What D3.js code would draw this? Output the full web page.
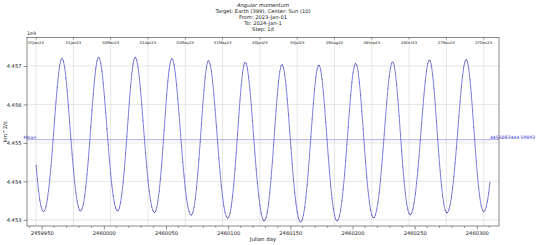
<!DOCTYPE html>
<html>
<head>
<meta charset="utf-8">
<script src="https://cdn.jsdelivr.net/npm/d3@7/dist/d3.min.js"></script>
<style>
    body { margin: 0; background: #fff; }
    svg text { font-family: "DejaVu Sans", sans-serif; fill: #222; }
</style>
</head>
<body>
<svg id="chart" width="540" height="245"></svg>
<script>
(function (d3) {
    "use strict";

    /***** Données *****/

    // Premier jour julien de la série (2023-Jan-01 00:00), pas de 1 jour
    const startJD = 2459945.5;

    // Moment cinétique (unités de 1e9 km^2/s), un point par jour
    const momentum = [
        4.454421, 4.454061, 4.453757, 4.453517, 4.453345, 4.453243, 4.453210, 4.453246, 4.453350, 4.453520,
        4.453755, 4.454050, 4.454400, 4.454793, 4.455214, 4.455645, 4.456063, 4.456445, 4.456768, 4.457012,
        4.457158, 4.457199, 4.457131, 4.456958, 4.456693, 4.456354, 4.455961, 4.455538, 4.455110, 4.454697,
        4.454315, 4.453981, 4.453702, 4.453486, 4.453335, 4.453250, 4.453232, 4.453284, 4.453406, 4.453599,
        4.453859, 4.454182, 4.454558, 4.454975, 4.455414, 4.455855, 4.456272, 4.456639, 4.456933, 4.457133,
        4.457225, 4.457204, 4.457080, 4.456861, 4.456561, 4.456198, 4.455795, 4.455374, 4.454955, 4.454558,
        4.454198, 4.453887, 4.453632, 4.453436, 4.453306, 4.453239, 4.453238, 4.453311, 4.453457, 4.453676,
        4.453964, 4.454316, 4.454719, 4.455158, 4.455612, 4.456055, 4.456460, 4.456801, 4.457054, 4.457199,
        4.457226, 4.457146, 4.456969, 4.456706, 4.456374, 4.455991, 4.455578, 4.455159, 4.454750, 4.454370,
        4.454031, 4.453742, 4.453512, 4.453342, 4.453235, 4.453191, 4.453215, 4.453316, 4.453493, 4.453743,
        4.454063, 4.454445, 4.454872, 4.455328, 4.455788, 4.456224, 4.456607, 4.456912, 4.457113, 4.457198,
        4.457166, 4.457033, 4.456808, 4.456505, 4.456143, 4.455741, 4.455320, 4.454902, 4.454503, 4.454140,
        4.453823, 4.453560, 4.453357, 4.453215, 4.453137, 4.453123, 4.453183, 4.453320, 4.453534, 4.453820,
        4.454173, 4.454582, 4.455029, 4.455493, 4.455948, 4.456363, 4.456713, 4.456969, 4.457113, 4.457134,
        4.457048, 4.456863, 4.456593, 4.456253, 4.455864, 4.455445, 4.455020, 4.454608, 4.454222, 4.453881,
        4.453591, 4.453360, 4.453189, 4.453083, 4.453041, 4.453068, 4.453173, 4.453354, 4.453610, 4.453935,
        4.454321, 4.454753, 4.455213, 4.455676, 4.456115, 4.456502, 4.456808, 4.457012, 4.457098, 4.457065,
        4.456927, 4.456695, 4.456381, 4.456005, 4.455590, 4.455156, 4.454727, 4.454321, 4.453953, 4.453636,
        4.453374, 4.453177, 4.453044, 4.452978, 4.452980, 4.453056, 4.453206, 4.453430, 4.453724, 4.454081,
        4.454489, 4.454932, 4.455390, 4.455839, 4.456248, 4.456595, 4.456853, 4.457004, 4.457037, 4.456956,
        4.456771, 4.456495, 4.456143, 4.455738, 4.455306, 4.454867, 4.454444, 4.454054, 4.453711, 4.453425,
        4.453204, 4.453048, 4.452960, 4.452942, 4.452995, 4.453119, 4.453315, 4.453578, 4.453905, 4.454286,
        4.454708, 4.455153, 4.455601, 4.456025, 4.456402, 4.456706, 4.456917, 4.457020, 4.457009, 4.456885,
        4.456656, 4.456340, 4.455955, 4.455529, 4.455084, 4.454646, 4.454234, 4.453866, 4.453553, 4.453303,
        4.453122, 4.453011, 4.452970, 4.453000, 4.453098, 4.453264, 4.453497, 4.453792, 4.454143, 4.454539,
        4.454967, 4.455406, 4.455836, 4.456234, 4.456575, 4.456838, 4.457007, 4.457070, 4.457019, 4.456854,
        4.456585, 4.456233, 4.455821, 4.455379, 4.454929, 4.454497, 4.454101, 4.453757, 4.453476, 4.453264,
        4.453124, 4.453056, 4.453061, 4.453131, 4.453266, 4.453465, 4.453725, 4.454040, 4.454404, 4.454805,
        4.455227, 4.455651, 4.456058, 4.456424, 4.456728, 4.456952, 4.457080, 4.457106, 4.457015, 4.456810,
        4.456506, 4.456125, 4.455694, 4.455241, 4.454792, 4.454371, 4.453997, 4.453681, 4.453434, 4.453259,
        4.453157, 4.453131, 4.453172, 4.453275, 4.453440, 4.453666, 4.453948, 4.454282, 4.454657, 4.455062,
        4.455478, 4.455889, 4.456273, 4.456609, 4.456877, 4.457063, 4.457152, 4.457137, 4.457001, 4.456756,
        4.456416, 4.456010, 4.455564, 4.455106, 4.454663, 4.454257, 4.453903, 4.453615, 4.453396, 4.453253,
        4.453186, 4.453191, 4.453260, 4.453389, 4.453580, 4.453827, 4.454128, 4.454476, 4.454860, 4.455267,
        4.455679, 4.456076, 4.456438, 4.456744, 4.456978, 4.457122, 4.457170, 4.457107, 4.456925, 4.456641,
        4.456275, 4.455852, 4.455401, 4.454950, 4.454523, 4.454138, 4.453811, 4.453551, 4.453363, 4.453249,
        4.453210, 4.453240, 4.453331, 4.453484, 4.453698, 4.453969
    ];

    // Valeur moyenne affichée
    const meanValue = 4455083444.59093;

    // Graduations
    const xTicks = [2459950, 2460000, 2460050, 2460100, 2460150, 2460200, 2460250, 2460300];
    const yTicks = [4.453, 4.454, 4.455, 4.456, 4.457];
    const dateTickJD = [2459945.5, 2459975.5, 2460005.5, 2460035.5, 2460065.5, 2460095.5, 2460125.5,
                        2460155.5, 2460185.5, 2460215.5, 2460245.5, 2460275.5, 2460305.5];
    const dateLabels = ["01Jan23", "31Jan23", "02Mar23", "01Apr23", "01May23", "31May23", "30Jun23",
                        "30Jul23", "29Aug23", "28Sep23", "28Oct23", "27Nov23", "27Dec23"];

    const titleLines = ["Angular momentum", "Target: Earth (399), Center: Sun (10)",
                        "From: 2023-Jan-01", "To: 2024-Jan-1", "Step: 1d"];

    /***** Configuration *****/

    const frame = { left: 27, right: 499, top: 37.5, bottom: 226 };

    const series = momentum.map((v, i) => ({ jd: startJD + i, v: v }));

    var x = d3.scaleLinear().domain([2459938.2, 2460317.8]).range([frame.left, frame.right]);
    var y = d3.scaleLinear().domain([4.45284, 4.45774]).range([frame.bottom, frame.top]);

    var svg = d3.select("#chart");
    svg.append("rect").attr("width", 540).attr("height", 245).attr("fill", "#fff");

    /***** Grille *****/

    var grid = svg.append("g");
    grid.selectAll(".hgrid").data(yTicks).enter().append("line")
        .attr("x1", frame.left).attr("x2", frame.right)
        .attr("y1", d => y(d)).attr("y2", d => y(d))
        .attr("stroke", "#e0e0e0").attr("stroke-width", 0.8);
    grid.selectAll(".vgrid").data(dateTickJD).enter().append("line")
        .attr("x1", d => x(d)).attr("x2", d => x(d))
        .attr("y1", frame.top).attr("y2", frame.bottom)
        .attr("stroke", "#e0e0e0").attr("stroke-width", 0.8);

    /***** Axes *****/

    var xAxis = d3.axisBottom(x).tickValues(xTicks).tickFormat(d3.format("d"))
        .tickSize(3.5).tickPadding(2);
    var gx = svg.append("g").attr("transform", "translate(0," + frame.bottom + ")").call(xAxis);

    var minor = d3.range(2459940, 2460320, 10).filter(d => !xTicks.includes(d));
    gx.selectAll(".minor").data(minor).enter().append("line")
        .attr("x1", d => x(d)).attr("x2", d => x(d))
        .attr("y1", 0).attr("y2", 2)
        .attr("stroke", "#444").attr("stroke-width", 0.5);

    var yAxis = d3.axisLeft(y).tickValues(yTicks).tickFormat(d3.format(".3f"))
        .tickSize(3.5).tickPadding(2);
    var gy = svg.append("g").attr("transform", "translate(" + frame.left + ",0)").call(yAxis);

    [gx, gy].forEach(g => {
        g.select(".domain").remove();
        g.selectAll(".tick line").attr("stroke", "#444").attr("stroke-width", 0.6);
        g.selectAll(".tick text").attr("font-size", 5.2).attr("fill", "#222");
    });

    // Axe des dates (en haut, à l'intérieur du cadre)
    svg.append("g").selectAll("text").data(dateTickJD).enter().append("text")
        .attr("x", d => x(d)).attr("y", frame.top + 6.5)
        .attr("text-anchor", "middle").attr("font-size", 3.8)
        .text((d, i) => dateLabels[i]);
    svg.append("g").selectAll("line").data(dateTickJD).enter().append("line")
        .attr("x1", d => x(d)).attr("x2", d => x(d))
        .attr("y1", frame.top).attr("y2", frame.top + 2)
        .attr("stroke", "#444").attr("stroke-width", 0.5);

    /***** Moyenne *****/

    var yMean = y(meanValue / 1e9);
    svg.append("line")
        .attr("x1", frame.left).attr("x2", frame.right)
        .attr("y1", yMean).attr("y2", yMean)
        .attr("stroke", "#9a9ae2").attr("stroke-width", 0.8);
    svg.append("text")
        .attr("x", x(startJD)).attr("y", yMean - 0.8)
        .attr("text-anchor", "end").attr("font-size", 4.6)
        .style("fill", "#2b2bd0")
        .text("Mean");
    svg.append("text")
        .attr("x", x(series[series.length - 1].jd)).attr("y", yMean - 0.8)
        .attr("text-anchor", "start").attr("font-size", 4.6)
        .style("fill", "#2b2bd0")
        .text(meanValue.toString());

    /***** Courbe *****/

    var line = d3.line().x(d => x(d.jd)).y(d => y(d.v));
    svg.append("path").datum(series)
        .attr("d", line)
        .attr("fill", "none")
        .attr("stroke", "#5f5fd6")
        .attr("stroke-width", 0.8);
    svg.append("g").selectAll("circle").data(series).enter().append("circle")
        .attr("cx", d => x(d.jd)).attr("cy", d => y(d.v))
        .attr("r", 0.45).attr("fill", "#24247a");

    /***** Cadre et textes *****/

    svg.append("rect")
        .attr("x", frame.left).attr("y", frame.top)
        .attr("width", frame.right - frame.left).attr("height", frame.bottom - frame.top)
        .attr("fill", "none").attr("stroke", "#555").attr("stroke-width", 0.7);

    svg.append("text").attr("x", frame.left).attr("y", 34.5)
        .attr("font-size", 4.8).text("1e9");

    var cx = (frame.left + frame.right) / 2;
    svg.append("g").selectAll("text").data(titleLines).enter().append("text")
        .attr("x", cx).attr("y", (d, i) => 7 + i * 6)
        .attr("text-anchor", "middle").attr("font-size", 5.2)
        .style("font-style", (d, i) => i === 0 ? "italic" : "normal")
        .text(d => d);

    svg.append("text").attr("x", cx).attr("y", 241)
        .attr("text-anchor", "middle").attr("font-size", 5.4)
        .text("Julian day");

    svg.append("text")
        .attr("transform", "translate(7," + ((frame.top + frame.bottom) / 2) + ") rotate(-90)")
        .attr("text-anchor", "middle").attr("font-size", 5.4)
        .text("km^2/s");
})(d3);
</script>
</body>
</html>
